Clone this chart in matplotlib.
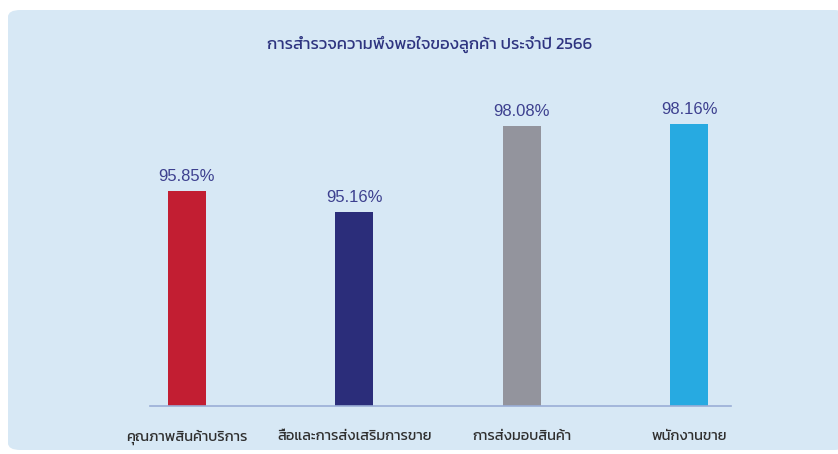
import matplotlib
matplotlib.use("Agg")
import matplotlib.pyplot as plt
from matplotlib.patches import FancyBboxPatch

categories = ['คุณภาพสินค้าบริการ', 'สื่อและการส่งเสริมการขาย', 'การส่งมอบสินค้า', 'พนักงานขาย']
values = [95.85, 95.16, 98.08, 98.16]
bar_colors = ['#c21e32', '#2b2d7a', '#93949d', '#27aae1']
title = 'การสำรวจความพึงพอใจของลูกค้า ประจำปี 2566'

plt.rcParams['font.family'] = ['Kanit', 'DejaVu Sans']

fig = plt.figure(figsize=(8.38, 4.54), dpi=100)
W, H = 838, 454

# panel de fundo arredondado
panel = FancyBboxPatch((8 / W, 4 / H), 1.0, 440 / H,
                       boxstyle='round,pad=0,rounding_size=0.015',
                       transform=fig.transFigure, facecolor='#d7e8f5',
                       edgecolor='none', zorder=-1)
fig.patches.append(panel)

ax = fig.add_axes([150 / W, 48 / H, (731 - 150) / W, (406 - 60) / H])
ax.set_zorder(1)
ax.patch.set_alpha(0)
x = range(len(values))
ax.bar(x, values, width=0.227, color=bar_colors, zorder=2)
ax.set_xlim(-0.22, 3.25)
ax.set_ylim(88.5, 100.35)

for i, v in enumerate(values):
    ax.annotate(f'{v:.2f}%', (i, v), xytext=(0, 5), textcoords='offset points',
                ha='center', va='bottom', fontsize=12, color='#3d408f',
                family='Liberation Sans')

ax.set_xticks(list(x))
ax.set_xticklabels(categories, fontsize=10.5, color='#2f2f2f')
ax.tick_params(axis='x', length=0, pad=17)
ax.set_yticks([])
for s in ['top', 'right', 'left']:
    ax.spines[s].set_visible(False)
ax.spines['bottom'].set_color('#9aaed6')
ax.spines['bottom'].set_linewidth(1.2)

fig.text(430 / W, 1 - 44 / H, title, ha='center', va='center',
         fontsize=12, color='#2e3480')

fig.savefig('out.png', dpi=100)
